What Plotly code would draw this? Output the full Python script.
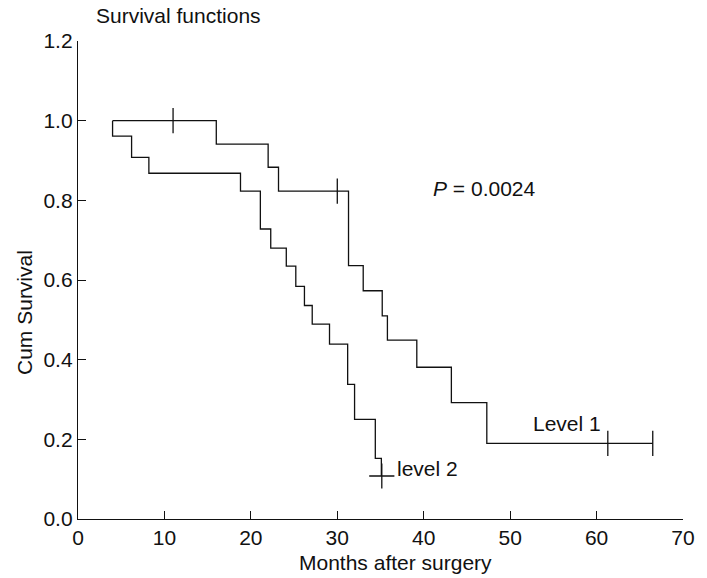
import plotly.graph_objects as go

# Level 1 (upper curve)
l1_times = [4.0, 16.0, 22.0, 23.2, 31.3, 33.0, 35.2, 35.8, 39.2, 43.2, 47.3]
l1_surv = [1.000, 0.941, 0.883, 0.823, 0.636, 0.573, 0.510, 0.449, 0.381, 0.292, 0.190]
l1_end = 66.5
l1_censor = [11.0, 30.0, 61.3, 66.5]

# Level 2 (lower curve)
l2_times = [4.0, 4.0, 6.2, 8.2, 18.8, 21.1, 22.3, 24.1, 25.2, 26.2, 27.1, 29.1, 31.2, 32.0, 34.4, 35.1]
l2_surv = [1.000, 0.961, 0.908, 0.868, 0.823, 0.728, 0.680, 0.635, 0.584, 0.536, 0.489, 0.439, 0.338, 0.250, 0.152, 0.108]
l2_censor = [35.15]

x_ticks = [0, 10, 20, 30, 40, 50, 60, 70]
y_ticks = [0.0, 0.2, 0.4, 0.6, 0.8, 1.0, 1.2]

FONT = "Liberation Sans"
FS = 21
INK = "#111111"


def surv_at(times, surv, t):
    s = surv[0]
    for ti, si in zip(times, surv):
        if ti <= t:
            s = si
    return s


fig = go.Figure()

fig.add_trace(go.Scatter(
    x=l1_times + [l1_end], y=l1_surv + [l1_surv[-1]],
    mode="lines", line=dict(shape="hv", color=INK, width=1.3),
    showlegend=False, hoverinfo="skip"))
fig.add_trace(go.Scatter(
    x=l1_censor, y=[surv_at(l1_times, l1_surv, t) for t in l1_censor],
    mode="markers",
    marker=dict(symbol="line-ns-open", size=18, color=INK, line=dict(color=INK, width=1.3)),
    showlegend=False, hoverinfo="skip"))

fig.add_trace(go.Scatter(
    x=l2_times, y=l2_surv,
    mode="lines", line=dict(shape="hv", color=INK, width=1.3),
    showlegend=False, hoverinfo="skip"))
fig.add_trace(go.Scatter(
    x=l2_censor, y=[surv_at(l2_times, l2_surv, t) for t in l2_censor],
    mode="markers",
    marker=dict(symbol="cross-thin-open", size=18, color=INK, line=dict(color=INK, width=1.3)),
    showlegend=False, hoverinfo="skip"))

axis_common = dict(
    showgrid=False, zeroline=False, showline=True, linecolor=INK, linewidth=1.3,
    ticks="inside", ticklen=8, tickwidth=1.3, tickcolor=INK,
    tickfont=dict(family=FONT, size=FS, color=INK),
)

fig.update_xaxes(range=[0, 70], tickvals=x_ticks, ticktext=[str(v) for v in x_ticks], **axis_common)
fig.update_yaxes(range=[0, 1.2], tickvals=y_ticks, ticktext=[f"{v:.1f}" for v in y_ticks], **axis_common)

txt = dict(family=FONT, size=FS, color=INK)
annotations = [
    dict(text="Survival functions", xref="paper", yref="paper", x=0.027, y=1.0, yshift=26,
         xanchor="left", yanchor="middle", showarrow=False, font=txt),
    dict(text="Cum Survival", xref="paper", yref="paper", x=0, xshift=-53, y=0.431,
         textangle=-90, xanchor="center", yanchor="middle", showarrow=False, font=txt),
    dict(text="Months after surgery", xref="paper", yref="paper", x=0.524, y=0, yshift=-43,
         xanchor="center", yanchor="middle", showarrow=False, font=txt),
    dict(text="<i>P</i> = 0.0024", xref="x", yref="y", x=40.9, y=0.829,
         xanchor="left", yanchor="middle", showarrow=False, font=txt),
    dict(text="Level 1", xref="x", yref="y", x=52.4, y=0.241,
         xanchor="left", yanchor="middle", showarrow=False, font=txt),
    dict(text="level 2", xref="x", yref="y", x=36.7, y=0.128,
         xanchor="left", yanchor="middle", showarrow=False, font=txt),
]

fig.update_layout(
    width=707, height=578,
    margin=dict(l=78, r=24, t=41, b=59),
    paper_bgcolor="white", plot_bgcolor="white",
    annotations=annotations,
    font=dict(family=FONT, color=INK),
)

# remove the default 8px page margin so the figure fills the window exactly
fig.write_html("out.html", config={"displayModeBar": False},
               post_script="document.body.style.margin='0';")
